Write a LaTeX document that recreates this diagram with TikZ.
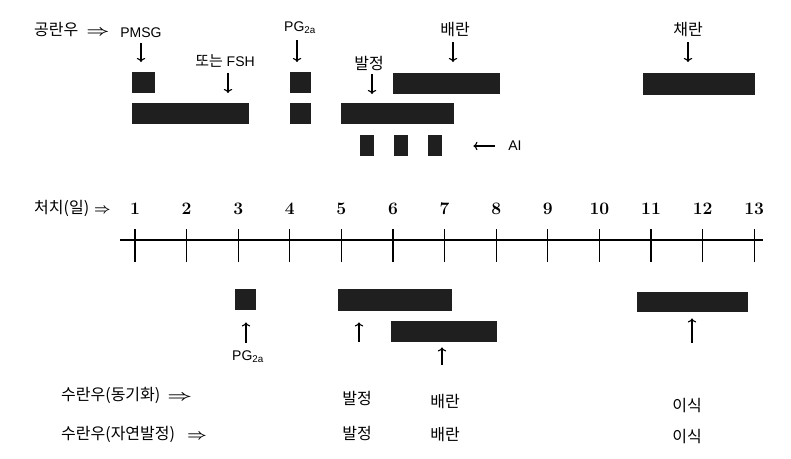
\documentclass[tikz,border=0pt]{standalone}
\usepackage{fontspec}
\usepackage{graphicx}
\usepackage{tikz}
\usetikzlibrary{arrows, arrows.meta}
\usepackage{amsmath}
\usepackage{amssymb}
\newfontfamily\kr{Noto Sans CJK KR}
\newfontfamily\lat{Liberation Sans}

\begin{document}
\begin{tikzpicture}[x=1pt, y=-1pt,
  bar/.style={fill=black!88, inner sep=0pt, anchor=north west},
  kor/.style={font=\kr\fontsize{16}{18}\selectfont, inner sep=1pt},
  lab/.style={font=\lat\fontsize{14}{16}\selectfont, inner sep=1pt},
  day/.style={font=\bfseries\fontsize{17.5}{19}\selectfont, inner sep=1pt},
  arr/.style={>=To, ->, line width=1.1}]
\useasboundingbox (0,0) rectangle (791,458);

% donor cow
\node[kor, anchor=west] (donor) at (33,30) {공란우\hspace{8pt}{\fontsize{15}{16}\selectfont\scalebox{1.4}[1]{$\boldsymbol{\Rightarrow}$}}};
\node[lab] (pmsg) at (141,33) {PMSG};
\node[lab] (fsh) at (225,61) {{\kr\fontsize{15}{17}\selectfont 또는} FSH};
\node[lab] (pgt) at (300,28) {PG\textsubscript{2a}};
\node[kor] (heat) at (369,63) {발정};
\node[kor] (ov) at (455,30) {배란};
\node[kor] (col) at (688,30) {채란};
\node[lab] (ai) at (515,146) {AI};

\node[bar, minimum width=23, minimum height=21] (pmsgbox) at (132,72) {};
\node[bar, minimum width=117, minimum height=21] (fshbox) at (132,103) {};
\node[bar, minimum width=21, minimum height=21] (pgbox) at (290,72) {};
\node[bar, minimum width=21, minimum height=21] (pgboxb) at (290,103) {};
\node[bar, minimum width=113, minimum height=21] (heatbox) at (341,103) {};
\node[bar, minimum width=107, minimum height=21] (ovbox) at (393,73) {};
\node[bar, minimum width=14, minimum height=21] (aia) at (360,135) {};
\node[bar, minimum width=14, minimum height=21] (aib) at (394,135) {};
\node[bar, minimum width=14, minimum height=21] (aic) at (428,135) {};
\node[bar, minimum width=112, minimum height=22] (colbox) at (643,73) {};

\draw[arr, shorten <=4, shorten >=10] (pmsg.south) -- (pmsg.south |- pmsgbox.north);
\draw[arr, shorten <=4, shorten >=10] ([xshift=3]fsh.south) -- ([xshift=3]fsh.south |- fshbox.north);
\draw[arr, shorten <=5, shorten >=10] ([xshift=-3]pgt.south) -- ([xshift=-3]pgt.south |- pgbox.north);
\draw[arr, shorten <=3, shorten >=9] ([xshift=3]heat.south) -- ([xshift=3]heat.south |- heatbox.north);
\draw[arr, shorten <=4, shorten >=11] ([xshift=-2]ov.south) -- ([xshift=-2]ov.south |- ovbox.north);
\draw[arr, shorten <=4, shorten >=11] (col.south) -- (col.south |- colbox.north);
\draw[arr, shorten <=12, shorten >=31] (ai.west) -- (ai.west -| aic.east);

% treatment days
\node[kor, anchor=west] (days) at (33,208) {처치(일)\hspace{5pt}{\fontsize{14}{16}\selectfont$\boldsymbol{\Rightarrow}$}};
\draw[line width=1.3] (120,240) -- (763,240);
\foreach \i in {1,...,13} {
  \node[day] (n\i) at ({135+(\i-1)*51.6},209) {\i};
  \draw[line width=1.3] ({135+(\i-1)*51.6},229) -- ({135+(\i-1)*51.6},262);
}

% recipient cow
\node[bar, minimum width=21, minimum height=21] (pgboxc) at (235,289) {};
\node[bar, minimum width=114, minimum height=22] (heatboxb) at (338,289) {};
\node[bar, minimum width=106, minimum height=21] (ovboxb) at (391,321) {};
\node[bar, minimum width=111, minimum height=20] (etbox) at (637,292) {};

\node[lab] (pgb) at (248,357) {PG\textsubscript{2a}};
\coordinate (ha) at (359,342);
\coordinate (oa) at (442,365);
\coordinate (ea) at (692,343);

\draw[arr, shorten <=7, shorten >=12] ([xshift=-2]pgb.north) -- ([xshift=-2]pgb.north |- pgboxc.south);
\draw[arr, shorten >=11] (ha) -- (ha |- heatboxb.south);
\draw[arr, shorten >=5] (oa) -- (oa |- ovboxb.south);
\draw[arr, shorten >=6] (ea) -- (ea |- etbox.south);

\node[kor, anchor=west] (sync) at (60,395) {수란우(동기화)\hspace{7pt}{\fontsize{15}{16}\selectfont\scalebox{1.5}[1]{$\boldsymbol{\Rightarrow}$}}};
\node[kor, anchor=west] (nat) at (60,434) {수란우(자연발정)\hspace{12pt}{\fontsize{15}{16}\selectfont\scalebox{1.2}[1]{$\boldsymbol{\Rightarrow}$}}};
\node[kor] (heata) at (357,398) {발정};
\node[kor] (ova) at (445,401) {배란};
\node[kor] (eta) at (687,406) {이식};
\node[kor] (heatc) at (357,433) {발정};
\node[kor] (ovc) at (445,434) {배란};
\node[kor] (etc) at (687,437) {이식};
\end{tikzpicture}
\end{document}
